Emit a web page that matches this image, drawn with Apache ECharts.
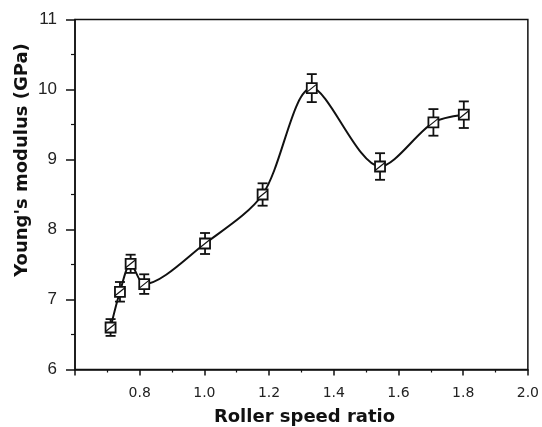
<!DOCTYPE html>
<html><head><meta charset="utf-8">
<script src="https://cdn.jsdelivr.net/npm/echarts@6/dist/echarts.min.js"></script>
<style>html,body{margin:0;padding:0;background:#fff}#c{width:542px;height:427px}</style>
</head><body><div id="c"></div>
<script>
const speedRatio = [0.710, 0.739, 0.772, 0.814, 1.002, 1.180, 1.332, 1.543, 1.708, 1.802];
const modulus    = [6.60, 7.11, 7.51, 7.22, 7.80, 8.50, 10.02, 8.90, 9.53, 9.64];
const errBar     = [0.12, 0.14, 0.13, 0.14, 0.15, 0.16, 0.20, 0.19, 0.19, 0.19];
const xTicks = [0.8, 1.0, 1.2, 1.4, 1.6, 1.8, 2.0];
const yTicks = [6, 7, 8, 9, 10, 11];
const xTitle = 'Roller speed ratio';
const yTitle = "Young's modulus (GPa)";

const pts = speedRatio.map((x, i) => [x, modulus[i], errBar[i]]);
const chart = echarts.init(document.getElementById('c'), null, {renderer: 'canvas'});
const titleFont = {fontFamily: 'DejaVu Sans, sans-serif', fontWeight: 'bold', fontSize: 18, fill: '#111'};
chart.setOption({
  animation: false,
  backgroundColor: '#fff',
  grid: {left: 75, right: 14, top: 19.5, bottom: 57.5, show: true, borderColor: '#111', borderWidth: 1.5, backgroundColor: 'transparent'},
  graphic: [
    {type: 'text', x: 304.5, y: 417,
     style: Object.assign({text: xTitle, textAlign: 'center', textVerticalAlign: 'middle'}, titleFont)},
    {type: 'text', x: 22, y: 160, rotation: Math.PI / 2,
     style: Object.assign({text: yTitle, textAlign: 'center', textVerticalAlign: 'middle'}, titleFont)}
  ],
  xAxis: {
    type: 'value', min: 0.6, max: 2.0, interval: 0.2,
    axisLine: {lineStyle: {color: '#111', width: 1.5}},
    axisTick: {show: true, inside: false, length: 6, lineStyle: {color: '#111', width: 1.5}},
    minorTick: {show: true, splitNumber: 2, length: 3, lineStyle: {color: '#111', width: 1.2}},
    splitLine: {show: false},
    axisLabel: {color: '#222', fontFamily: 'DejaVu Sans, sans-serif', fontSize: 14, margin: 17, formatter: v => {
      const r = Math.round(v * 10) / 10;
      return xTicks.some(t => Math.abs(t - r) < 1e-6) ? r.toFixed(1) : '';
    }}
  },
  yAxis: {
    type: 'value', min: 6, max: 11, interval: 1,
    axisLine: {show: true, lineStyle: {color: '#111', width: 1.5}},
    axisTick: {show: true, inside: false, length: 9, lineStyle: {color: '#111', width: 1.5}},
    minorTick: {show: true, splitNumber: 2, length: 4, lineStyle: {color: '#111', width: 1.2}},
    splitLine: {show: false},
    axisLabel: {color: '#222', fontFamily: 'Liberation Sans, Arial, sans-serif', fontSize: 17, margin: 18,
      formatter: v => yTicks.indexOf(v) >= 0 ? String(v) : ''}
  },
  series: [
    {
      type: 'line', data: pts.map(p => [p[0], p[1]]), smooth: 0.3, showSymbol: false,
      lineStyle: {color: '#111', width: 2}, z: 2
    },
    {
      type: 'custom', data: pts, z: 3,
      renderItem: (params, api) => {
        const x = api.value(0), y = api.value(1), e = api.value(2);
        const c = api.coord([x, y]), top = api.coord([x, y + e]), bot = api.coord([x, y - e]);
        const s = 10, cap = 5;
        const st = {stroke: '#111', lineWidth: 1.8, fill: null};
        return {type: 'group', children: [
          {type: 'line', shape: {x1: c[0], y1: top[1], x2: c[0], y2: bot[1]}, style: st},
          {type: 'line', shape: {x1: c[0] - cap, y1: top[1], x2: c[0] + cap, y2: top[1]}, style: st},
          {type: 'line', shape: {x1: c[0] - cap, y1: bot[1], x2: c[0] + cap, y2: bot[1]}, style: st},
          {type: 'rect', shape: {x: c[0] - s / 2, y: c[1] - s / 2, width: s, height: s}, style: {stroke: '#111', lineWidth: 1.8, fill: '#fff'}},
          {type: 'line', shape: {x1: c[0] - s / 2, y1: c[1] + s / 2 - 1, x2: c[0] + s / 2, y2: c[1] - s / 2 + 1}, style: {stroke: '#111', lineWidth: 1.2}}
        ]};
      }
    }
  ]
});
</script></body></html>
